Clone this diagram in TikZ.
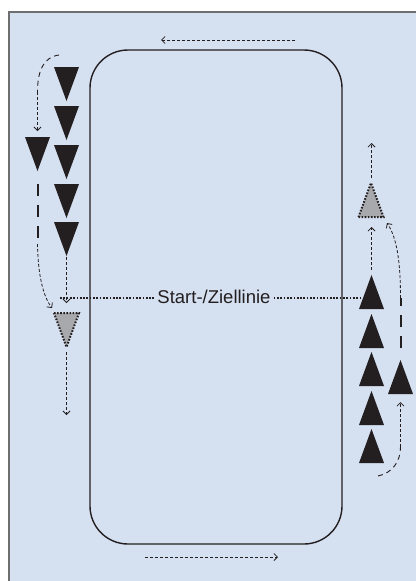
\documentclass[tikz,border=0pt]{standalone}
\usepackage{fontspec}
\setmainfont{Liberation Sans}
\usetikzlibrary{arrows.meta}
\definecolor{bgblue}{HTML}{D5E0F1}
\definecolor{framegray}{HTML}{6D6E70}
\definecolor{ink}{HTML}{231F20}
\definecolor{conegray}{HTML}{A7A9AC}
\begin{document}
\begin{tikzpicture}[x=1pt,y=-1pt,
  tip/.style={-{Straight Barb[length=3.5pt,width=7pt,line width=0.8pt]}},
  runpath/.style={ink, line width=0.8pt, dash pattern=on 3pt off 2pt, tip},
  curvepath/.style={ink, line width=0.9pt, dash pattern=on 5pt off 4pt},
  heavydash/.style={ink, line width=2pt, dash pattern=on 12pt off 9pt},
  startline/.style={ink, line width=1.7pt, dash pattern=on 1.7pt off 1.6pt},
  dotrim/.style={ink, line width=2pt, dash pattern=on 1.6pt off 1.5pt},
  cone down/.pic={\fill[ink] (-12.5,0) -- (12.5,0) -- (0,34) -- cycle;},
  cone up/.pic={\fill[ink] (-12.5,34) -- (12.5,34) -- (0,0) -- cycle;},
  gray down/.pic={\fill[conegray] (-12.5,0) -- (12.5,0) -- (0,34) -- cycle;
    \draw[dotrim] (-12.5,0) -- (12.5,0) -- (0,34) -- cycle;},
  gray up/.pic={\fill[conegray] (-12.5,34) -- (12.5,34) -- (0,0) -- cycle;
    \draw[dotrim] (-12.5,34) -- (12.5,34) -- (0,0) -- cycle;}]
\useasboundingbox (0,0) rectangle (416,581);
% panel
\fill[white] (0,0) rectangle (416,581);
\fill[bgblue] (9,12) rectangle (416,581);
\draw[framegray, line width=2pt] (9,581) -- (9,12) -- (416,12);

% track
\draw[ink, line width=1.4pt, rounded corners=38pt] (90,50) rectangle (342,544);

% direction arrows along the track
\coordinate (topA) at (295,40); \coordinate (topB) at (161,40);
\coordinate (botA) at (145,557); \coordinate (botB) at (278,557);
\draw[runpath, line width=0.7pt] (topA) -- (topB);
\draw[runpath, line width=0.7pt] (botA) -- (botB);

% left lane: cones pointing down
\foreach \y in {67,106,145,184,222} \pic at (66.5,\y) {cone down};
\pic at (37.5,137) {cone down};
\pic at (66.5,313) {gray down};

% right lane: cones pointing up
\foreach \y in {275,314,352,391,429} \pic at (371.5,\y) {cone up};
\pic at (400.5,360) {cone up};
\pic at (371,183) {gray up};

% start / finish line
\node[font=\fontsize{18.5}{20}\selectfont, text=ink, inner sep=3pt] (goal) at (214,297) {Start-/Ziellinie};
\coordinate (goalL) at (60,298);
\coordinate (goalR) at (362,298);
\draw[startline] (goalL) -- (goal.west |- goalL);
\draw[startline] (goal.east |- goalR) -- (goalR);

% left lane moves
\coordinate (l1) at (59,55); \coordinate (l2) at (37.5,92); \coordinate (l3) at (37.5,131);
\draw[curvepath] (l1) .. controls (44,57) and (37.5,70) .. (l2);
\draw[runpath] (l2) -- (l3);
\coordinate (l4) at (37.5,184); \coordinate (l5) at (37.5,244); \coordinate (l6) at (52,308);
\draw[heavydash] (l4) -- (l5);
\draw[runpath] (l5) .. controls (38,275) and (43,296) .. (l6);
\coordinate (l7) at (66.5,257); \coordinate (l8) at (66.5,303);
\draw[runpath] (l7) -- (l8);
\coordinate (l9) at (66.5,352); \coordinate (l10) at (66.5,415);
\draw[runpath] (l9) -- (l10);

% right lane moves
\coordinate (r1) at (378,476); \coordinate (r2) at (400.5,447); \coordinate (r3) at (400.5,402);
\draw[curvepath] (r1) .. controls (392,473) and (400.5,462) .. (r2);
\draw[runpath] (r2) -- (r3);
\coordinate (r4) at (400.5,348); \coordinate (r5) at (400.5,298); \coordinate (r6) at (387,223);
\draw[heavydash] (r4) -- (r5);
\draw[runpath] (r5) .. controls (400.5,262) and (397,238) .. (r6);
\coordinate (r7) at (371.5,270); \coordinate (r8) at (371.5,227);
\draw[runpath] (r7) -- (r8);
\coordinate (r9) at (371.5,178); \coordinate (r10) at (371.5,143);
\draw[runpath] (r9) -- (r10);
\end{tikzpicture}
\end{document}
